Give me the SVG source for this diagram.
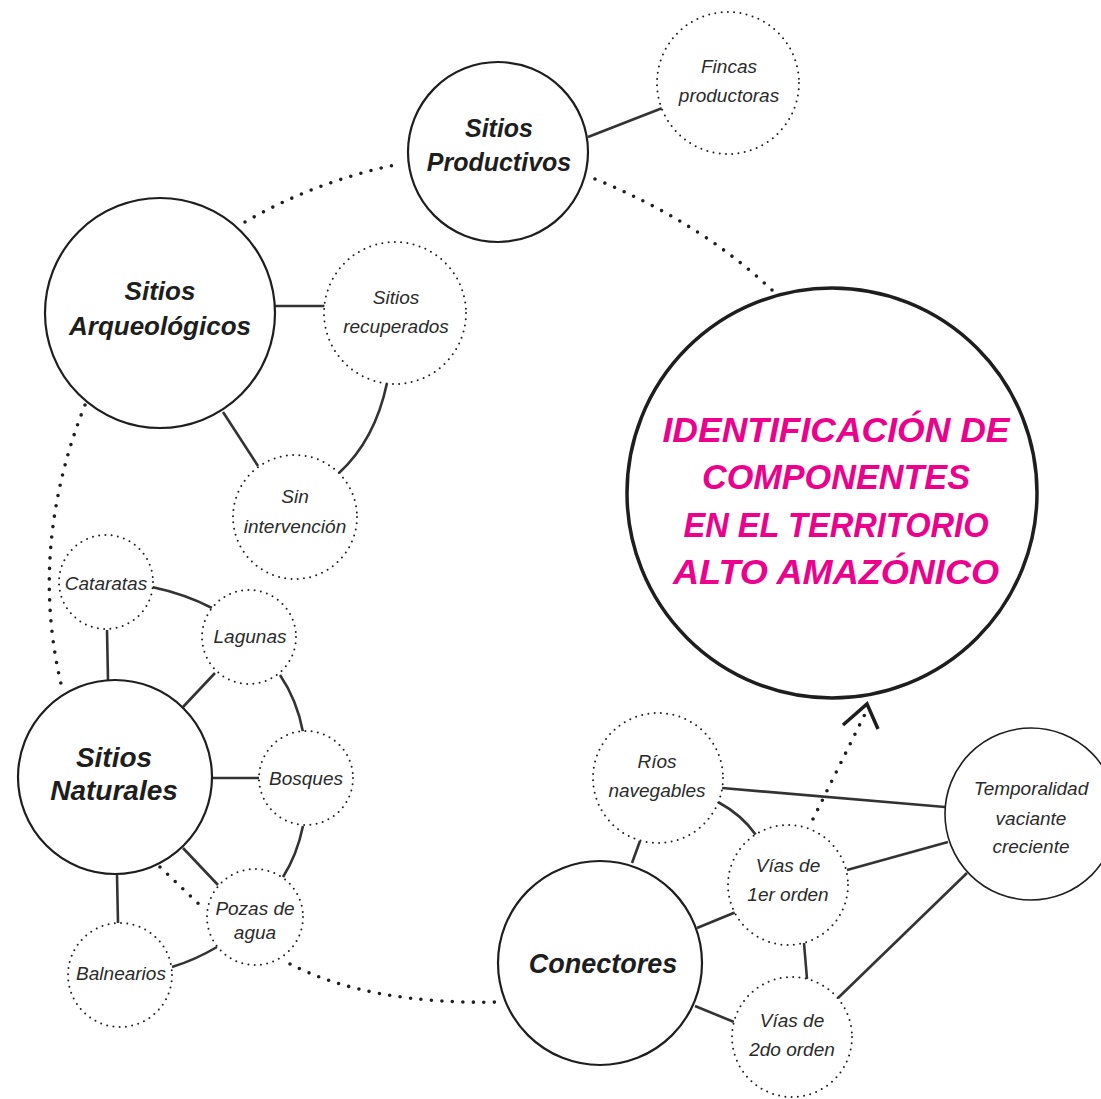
<svg xmlns="http://www.w3.org/2000/svg" width="1101" height="1099" viewBox="0 0 1101 1099">
<style>
.solid{fill:#fff;stroke:#1e1e1e;stroke-width:2.2}
.dot{fill:#fff;stroke:#1e1e1e;stroke-width:2;stroke-dasharray:0 6.3;stroke-linecap:round}
.ln{fill:none;stroke:#333;stroke-width:2.6}
.bigdot{fill:none;stroke:#1e1e1e;stroke-width:3.6;stroke-dasharray:0 10.5;stroke-linecap:round}
.t{font-family:"Liberation Sans",Arial,sans-serif;font-style:italic;font-size:19px;fill:#2b2b2b;text-anchor:middle}
.b{font-family:"Liberation Sans",Arial,sans-serif;font-style:italic;font-weight:bold;fill:#1e1e1e;text-anchor:middle}
.p{font-family:"Liberation Sans",Arial,sans-serif;font-style:italic;font-weight:bold;fill:#EC008C;text-anchor:middle;font-size:35px}
</style>
<rect width="1101" height="1099" fill="#fff"/>
<g id="connectors">
<path class="ln" d="M588,137 L665,107"/>
<path class="ln" d="M275,306 L327,306"/>
<path class="ln" d="M223,412 L258,466"/>
<path class="ln" d="M387,383 Q375,440 339,473"/>
<path class="ln" d="M152,587 Q185,594 212,608"/>
<path class="ln" d="M107,630 L108,680"/>
<path class="ln" d="M215,673 L183,707"/>
<path class="ln" d="M280,675 Q297,700 303,732"/>
<path class="ln" d="M212,778 L259,778"/>
<path class="ln" d="M303,826 Q297,855 283,877"/>
<path class="ln" d="M183,848 L218,885"/>
<path class="ln" d="M117,875 L118,923"/>
<path class="ln" d="M217,947 Q195,960 172,967"/>
<path class="ln" d="M722,788 L945,807"/>
<path class="ln" d="M718,802 Q742,815 756,835"/>
<path class="ln" d="M640,841 L632,863"/>
<path class="ln" d="M697,928 L736,912"/>
<path class="ln" d="M847,870 L948,842"/>
<path class="ln" d="M967,873 L838,998"/>
<path class="ln" d="M804,943 L807,979"/>
<path class="ln" d="M695,1006 L734,1022"/>
<path class="bigdot" d="M245,222 Q318,180 400,164"/>
<path class="bigdot" d="M595,179 Q700,222 773,291"/>
<path class="bigdot" d="M85,405 Q28,548 62,688"/>
<path class="bigdot" d="M160,867 L203,908"/>
<path class="bigdot" d="M290,964 Q370,1005 500,1002"/>
<path class="bigdot" d="M813,819 L866,712"/>
<path d="M843,725 L867,704 L878,729" fill="none" stroke="#1e1e1e" stroke-width="3.5"/>
</g>
<g id="main">
<circle cx="832" cy="493" r="205" fill="#fff" stroke="#1e1e1e" stroke-width="3.5"/>
<text class="p" x="836" y="442" textLength="347" lengthAdjust="spacingAndGlyphs">IDENTIFICACIÓN DE</text>
<text class="p" x="836" y="489" textLength="268" lengthAdjust="spacingAndGlyphs">COMPONENTES</text>
<text class="p" x="836" y="537" textLength="305" lengthAdjust="spacingAndGlyphs">EN EL TERRITORIO</text>
<text class="p" x="836" y="584" textLength="326" lengthAdjust="spacingAndGlyphs">ALTO AMAZÓNICO</text>
</g>
<g id="productivos">
<circle class="solid" cx="498" cy="152" r="90"/>
<text class="b" x="499" y="137" font-size="25">Sitios</text>
<text class="b" x="499" y="171" font-size="25">Productivos</text>
</g>
<g id="fincas">
<circle class="dot" cx="728" cy="83" r="71"/>
<text class="t" x="729" y="73">Fincas</text>
<text class="t" x="729" y="102">productoras</text>
</g>
<g id="arqueologicos">
<circle class="solid" cx="160" cy="313" r="115"/>
<text class="b" x="160" y="300" font-size="26">Sitios</text>
<text class="b" x="160" y="335" font-size="26">Arqueológicos</text>
</g>
<g id="recuperados">
<circle class="dot" cx="395" cy="313" r="71"/>
<text class="t" x="396" y="304">Sitios</text>
<text class="t" x="396" y="333">recuperados</text>
</g>
<g id="sin-intervencion">
<circle class="dot" cx="295" cy="517" r="62"/>
<text class="t" x="295" y="503">Sin</text>
<text class="t" x="295" y="533">intervención</text>
</g>
<g id="cataratas">
<circle class="dot" cx="106" cy="582" r="47"/>
<text class="t" x="106" y="590">Cataratas</text>
</g>
<g id="lagunas">
<circle class="dot" cx="249" cy="637" r="47"/>
<text class="t" x="250" y="643">Lagunas</text>
</g>
<g id="bosques">
<circle class="dot" cx="306" cy="778" r="47"/>
<text class="t" x="306" y="785">Bosques</text>
</g>
<g id="naturales">
<circle class="solid" cx="115" cy="777" r="97"/>
<text class="b" x="114" y="767" font-size="28">Sitios</text>
<text class="b" x="114" y="800" font-size="28">Naturales</text>
</g>
<g id="pozas">
<circle class="dot" cx="255" cy="917" r="48"/>
<text class="t" x="255" y="915">Pozas de</text>
<text class="t" x="255" y="939">agua</text>
</g>
<g id="balnearios">
<circle class="dot" cx="120" cy="975" r="52"/>
<text class="t" x="121" y="980">Balnearios</text>
</g>
<g id="conectores">
<circle class="solid" cx="600" cy="963" r="102"/>
<text class="b" x="603" y="973" font-size="27">Conectores</text>
</g>
<g id="rios">
<circle class="dot" cx="658" cy="778" r="65"/>
<text class="t" x="657" y="768">Ríos</text>
<text class="t" x="657" y="797">navegables</text>
</g>
<g id="vias1">
<circle class="dot" cx="788" cy="885" r="60"/>
<text class="t" x="788" y="872">Vías de</text>
<text class="t" x="788" y="901">1er orden</text>
</g>
<g id="vias2">
<circle class="dot" cx="792" cy="1037" r="60"/>
<text class="t" x="792" y="1027">Vías de</text>
<text class="t" x="792" y="1056">2do orden</text>
</g>
<g id="temporalidad">
<circle cx="1031" cy="814" r="86" fill="#fff" stroke="#1e1e1e" stroke-width="1.6"/>
<text class="t" x="1031" y="795">Temporalidad</text>
<text class="t" x="1031" y="825">vaciante</text>
<text class="t" x="1031" y="853">creciente</text>
</g>
</svg>
